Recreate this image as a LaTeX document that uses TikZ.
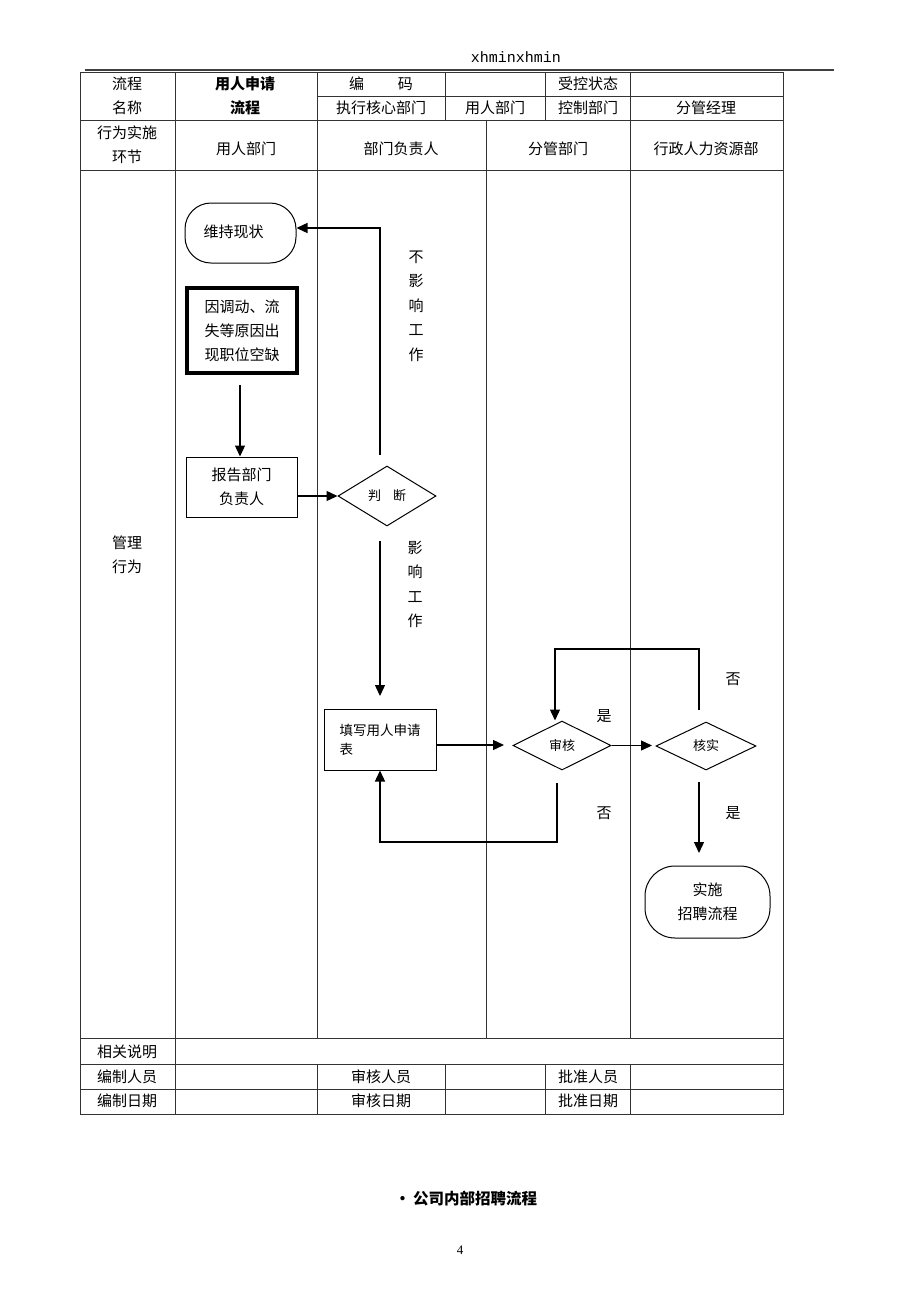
\documentclass[tikz,border=0pt]{standalone}
\usepackage{fontspec}
\usepackage{tikz}
\usetikzlibrary{arrows.meta,shapes.geometric}
\newfontfamily\cjk{Noto Sans CJK SC}
\newfontfamily\hdrfont{Liberation Mono}
\newfontfamily\numfont{Liberation Serif}

\begin{document}
\begin{tikzpicture}[x=1pt,y=-1pt,
  rule/.style={line width=0.9pt,black!80},
  cell/.style={font=\cjk\fontsize{15}{24}\selectfont,inner sep=0pt,align=center},
  tiny/.style={font=\cjk\fontsize{13}{19}\selectfont,inner sep=0pt},
  procbox/.style={draw,line width=1pt,rectangle,align=center,font=\cjk\fontsize{15}{24}\selectfont},
  endbox/.style={draw,line width=1pt,rectangle,rounded corners=26pt,align=center,font=\cjk\fontsize{15}{24}\selectfont},
  decision/.style={draw,line width=1pt,diamond,inner sep=0pt,font=\cjk\fontsize{13}{19}\selectfont},
  flow/.style={line width=1.3pt,-{Triangle[length=11pt,width=10pt]}},
  link/.style={line width=1.3pt}]
\useasboundingbox[fill=white] (0,0) rectangle (920,1302);

% page header
\node[font=\hdrfont\fontsize{15}{18}\selectfont,inner sep=0pt] (hdr) at (516,57) {xhminxhmin};
\draw[line width=1.3pt,black!75] (85,70)--(834,70);

% table frame
\draw[rule] (80,72) rectangle (783,1114);
\draw[rule] (317,96)--(783,96);
\draw[rule] (80,120)--(783,120);
\draw[rule] (80,170)--(783,170);
\draw[rule] (80,1038)--(783,1038);
\draw[rule] (80,1064)--(783,1064);
\draw[rule] (80,1089)--(783,1089);
\draw[rule] (175,72)--(175,1114);
\draw[rule] (317,72)--(317,1038);
\draw[rule] (317,1064)--(317,1114);
\draw[rule] (445,72)--(445,120);
\draw[rule] (445,1064)--(445,1114);
\draw[rule] (545,72)--(545,120);
\draw[rule] (545,1064)--(545,1114);
\draw[rule] (630,72)--(630,1038);
\draw[rule] (630,1064)--(630,1114);
\draw[rule] (486,120)--(486,1038);

% table texts
\node[cell] (hName) at (127,96) {流程\\名称};
\node[cell,font=\cjk\bfseries\fontsize{15}{24}\selectfont] (hTitle) at (245,96) {用人申请\\流程};
\node[cell] (hCode) at (381,84) {编\hspace{34pt}码};
\node[cell] (hState) at (588,84) {受控状态};
\node[cell] (hExec) at (381,108) {执行核心部门};
\node[cell] (hUser) at (495,108) {用人部门};
\node[cell] (hCtrl) at (588,108) {控制部门};
\node[cell] (hMgr) at (706,108) {分管经理};
\node[cell] (hStep) at (127,145) {行为实施\\环节};
\node[cell] (lane1) at (246,149) {用人部门};
\node[cell] (lane2) at (401,149) {部门负责人};
\node[cell] (lane3) at (558,149) {分管部门};
\node[cell] (lane4) at (706,149) {行政人力资源部};
\node[cell] (hAct) at (127,555) {管理\\行为};
\node[cell] (fNote) at (127,1052) {相关说明};
\node[cell] (fMake) at (127,1077) {编制人员};
\node[cell] (fCheck) at (381,1077) {审核人员};
\node[cell] (fOk) at (588,1077) {批准人员};
\node[cell] (fMakeD) at (127,1101) {编制日期};
\node[cell] (fCheckD) at (381,1101) {审核日期};
\node[cell] (fOkD) at (588,1101) {批准日期};

% flow nodes
\node[endbox,minimum width=111pt,minimum height=60pt] (keep) at (240.5,233) {\raisebox{4pt}{维持现状}\hspace{14pt}};
\node[procbox,line width=3.5pt,minimum width=110pt,minimum height=85pt] (vacancy) at (242,330.5) {因调动、流\\失等原因出\\现职位空缺};
\node[procbox,minimum width=111pt,minimum height=60pt] (report) at (241.5,487) {报告部门\\负责人};
\node[decision,minimum width=98pt,minimum height=60pt] (judge) at (387,496) {判\hspace{12pt}断};
\node[procbox,minimum width=112pt,minimum height=61pt,align=left,font=\cjk\fontsize{13.5}{19}\selectfont] (form) at (380,739.5) {填写用人申请\\表\hspace{67pt}};
\node[decision,minimum width=98pt,minimum height=49pt] (audit) at (562,745.5) {审核\hspace{8pt}};
\node[decision,minimum width=100pt,minimum height=48pt] (verify) at (706,746) {核实\hspace{6pt}};
\node[endbox,minimum width=125pt,minimum height=72pt,rounded corners=30pt] (recruit) at (707.5,902) {实施\\招聘流程};

% connector ends
\coordinate (a1) at (240,385);
\coordinate (up1) at (380,455);
\coordinate (up2) at (380,228);
\coordinate (dn1) at (380,541);
\coordinate (dn2) at (380,696);
\coordinate (f2) at (504,745);
\coordinate (v1) at (652,745);
\coordinate (r1) at (699,710);
\coordinate (r2) at (699,649);
\coordinate (r3) at (555,649);
\coordinate (b1) at (557,783);
\coordinate (b2) at (557,842);
\coordinate (y1) at (699,782);
\coordinate (y2) at (699,853);

% connectors
\draw[flow] (a1) -- (a1 |- report.north);
\draw[flow] (report.east |- judge.west) -- (judge.west);
\draw[flow] (up1) -- (up2) -- (up2 -| keep.east);
\draw[flow] (dn1) -- (dn2);
\draw[flow] (form.east |- f2) -- (f2);
\draw[flow] (audit.east) -- (audit.east -| v1);
\draw[flow] (r1) -- (r2) -- (r3) -- (r3 |- audit.north);
\draw[flow] (b1) -- (b2) -- (b2 -| form.south) -- (form.south);
\draw[flow] (y1) -- (y2);

% branch labels
\node[cell,font=\cjk\fontsize{15}{24.5}\selectfont] (noEffect) at (416,306) {不\\影\\响\\工\\作};
\node[cell,font=\cjk\fontsize{15}{24.5}\selectfont] (effect) at (415,584.5) {影\\响\\工\\作};
\node[cell] (yes1) at (604,716) {是};
\node[cell] (no1) at (733,679) {否};
\node[cell] (no2) at (604,813) {否};
\node[cell] (yes2) at (733,813) {是};

% caption and page number
\node[cell,font=\cjk\bfseries\fontsize{15.5}{20}\selectfont] (caption) at (466,1199) {•\,公司内部招聘流程};
\node[font=\numfont\fontsize{13}{16}\selectfont,inner sep=0pt] (pageno) at (460,1250) {4};
\end{tikzpicture}
\end{document}
